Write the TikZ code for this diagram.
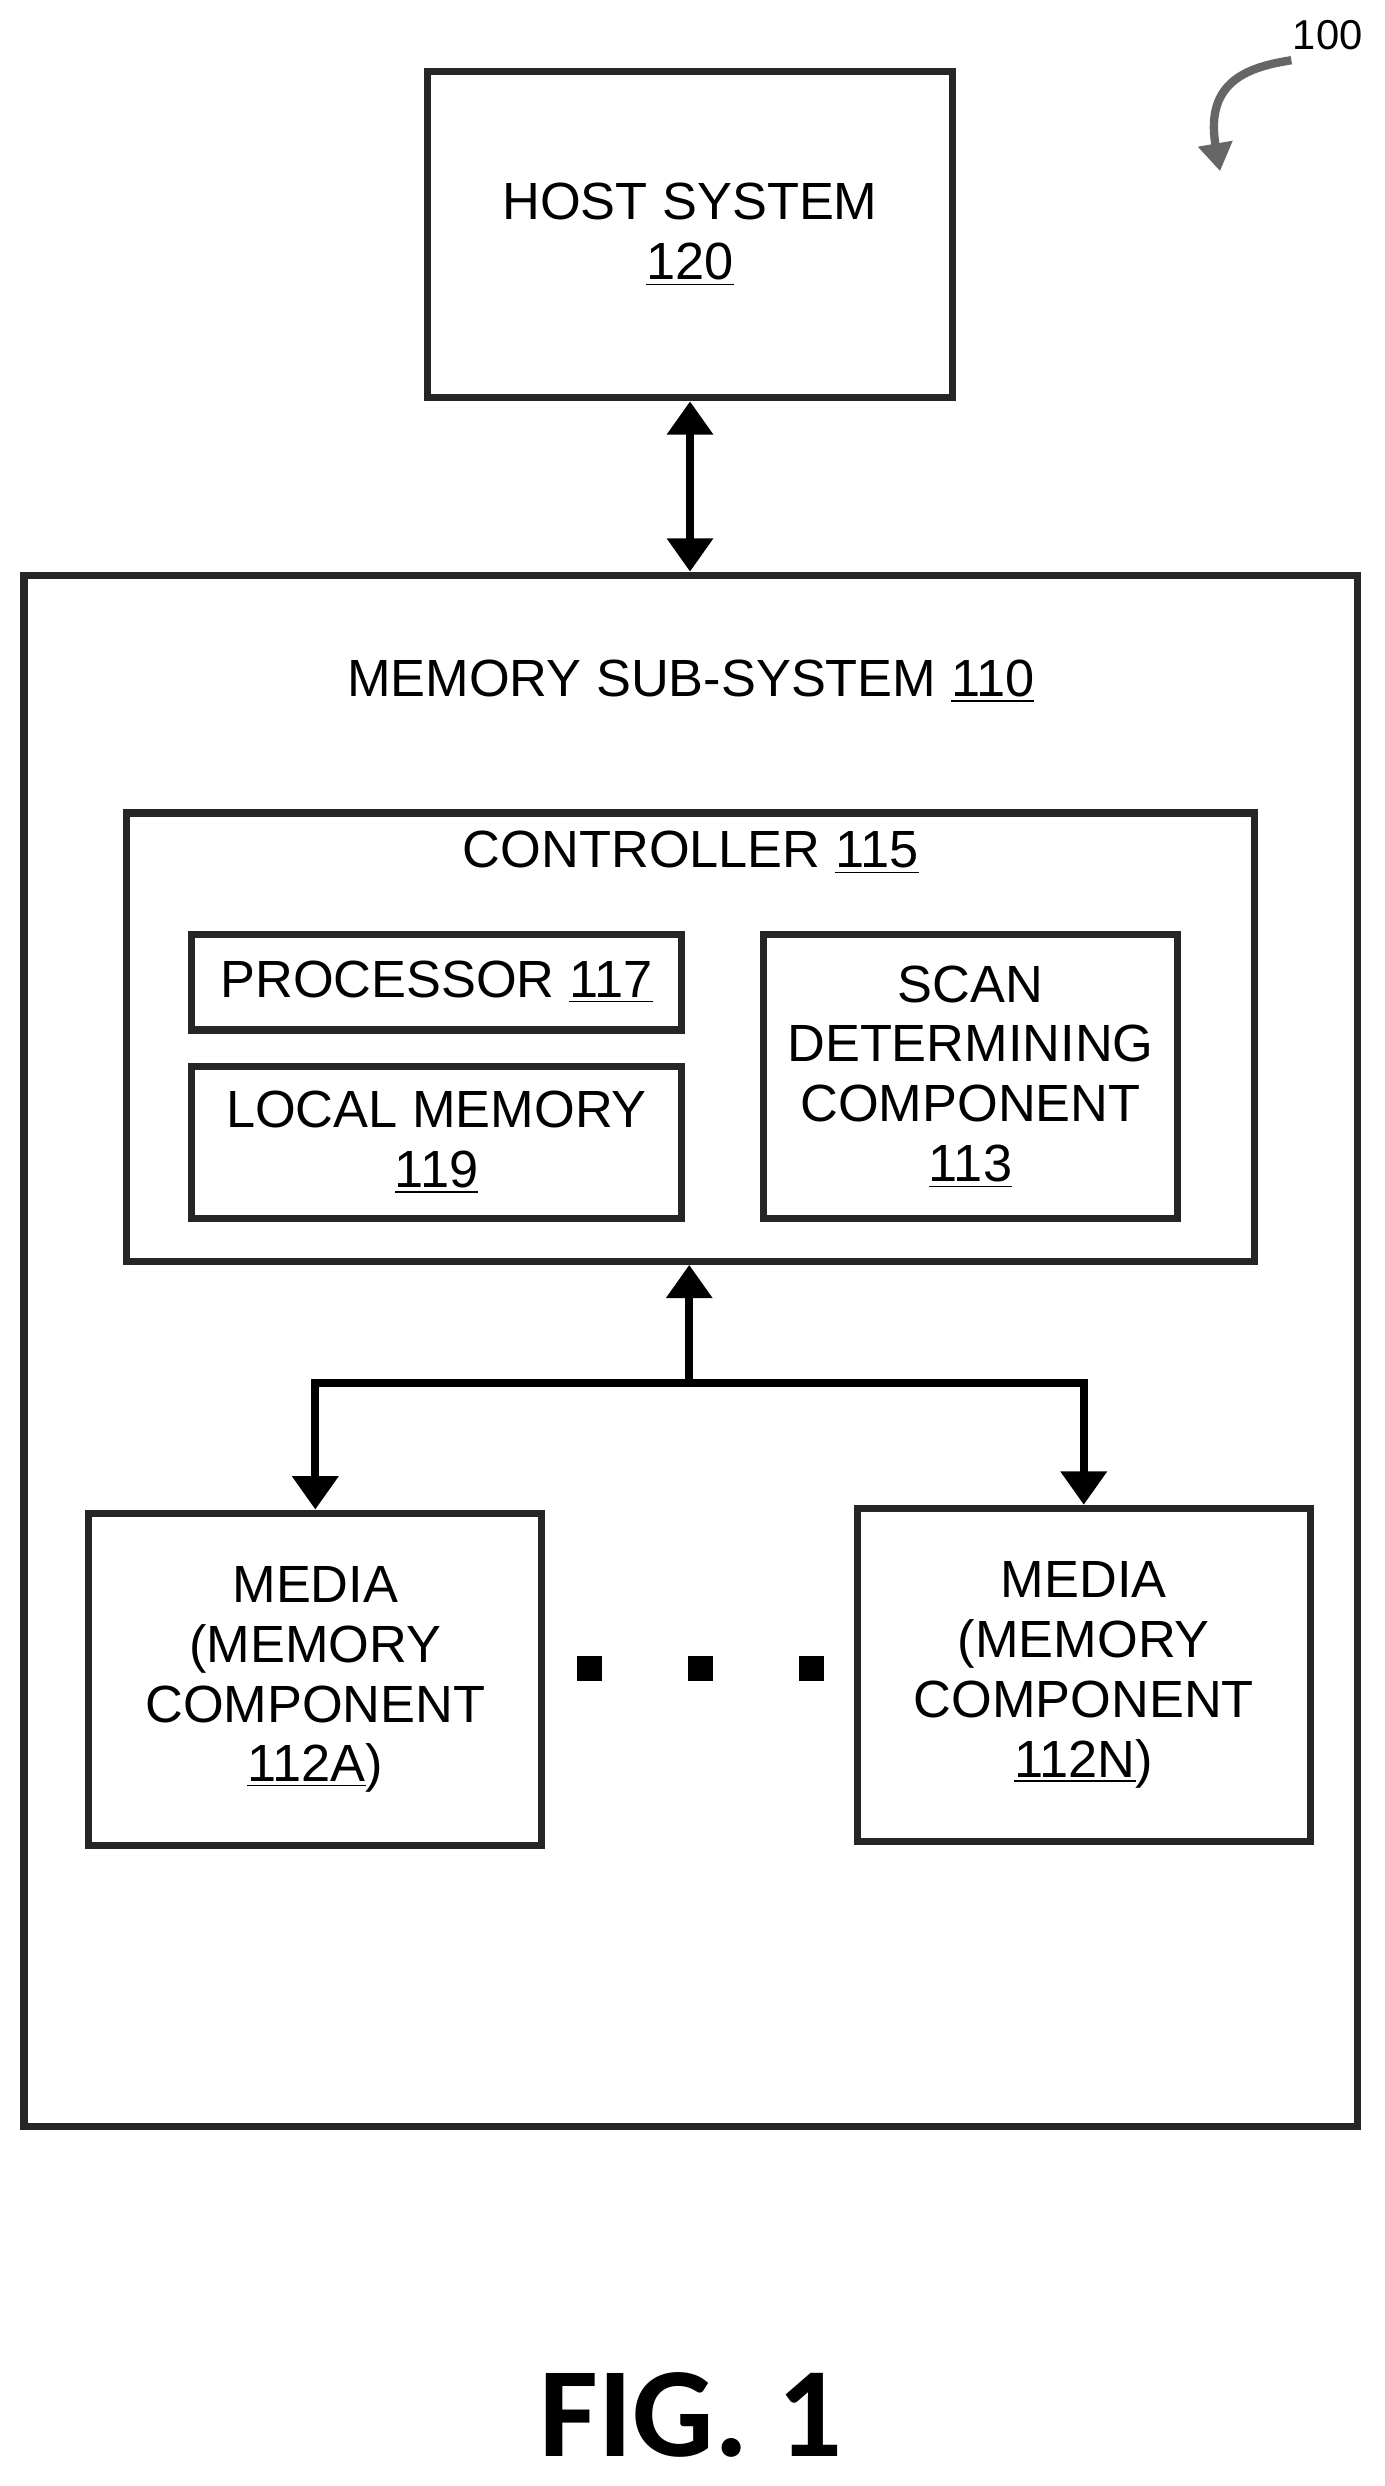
\documentclass[tikz,border=0pt]{standalone}
\usepackage{fontspec}
\setmainfont{Liberation Sans}
\newfontfamily\figfont{Carlito}
\usetikzlibrary{arrows.meta}

\begin{document}
\begin{tikzpicture}[x=0.02cm,y=-0.02cm]
        \tikzstyle{every node}=[font=\fontsize{18.8}{21.5}\selectfont,align=center]
        \tikzstyle{blk}=[draw=black!85,line width=2.6pt,inner sep=0pt]
        \tikzstyle{bus}=[black,line width=3pt]
        \tikzstyle{tip}=[-{Triangle[length=12pt,width=16pt]}]
        \useasboundingbox (0,0) rectangle (874,1569);

        %% host and sub-system
        \node [blk,minimum width=6.62cm,minimum height=4.12cm] (host) at (435.5,148) {HOST SYSTEM\\\underline{120}};
        \node [blk,minimum width=16.84cm,minimum height=19.58cm] (mss) at (436,852.5) {};
        \node (msslbl) at (436,430) {MEMORY SUB-SYSTEM \underline{110}};

        %% controller
        \node [blk,minimum width=14.24cm,minimum height=5.66cm] (ctrl) at (436,654.5) {};
        \node (ctrllbl) at (436,538) {CONTROLLER \underline{115}};
        \node [blk,minimum width=6.18cm,minimum height=1.2cm] (proc) at (275.5,620) {PROCESSOR \underline{117}};
        \node [blk,minimum width=6.18cm,minimum height=1.92cm] (lmem) at (275.5,721) {LOCAL MEMORY\\\underline{119}};
        \node [blk,minimum width=5.22cm,minimum height=3.58cm] (scan) at (612.5,679.5) {SCAN\\DETERMINING\\COMPONENT\\\underline{113}};

        %% media
        \node [blk,minimum width=5.72cm,minimum height=4.2cm] (mediaA) at (199,1060) {MEDIA\\(MEMORY\\COMPONENT\\\underline{112A})};
        \node [blk,minimum width=5.72cm,minimum height=4.2cm] (mediaN) at (684,1057) {MEDIA\\(MEMORY\\COMPONENT\\\underline{112N})};
        \foreach \x in {372,442,512}
            \fill [black] (\x-8,1045) rectangle (\x+8,1061);

        %% connectors
        \draw [bus,{Triangle[length=12pt,width=16pt]}-{Triangle[length=12pt,width=16pt]}] (host.south) -- (host.south |- mss.north);
        \coordinate (jn) at (435,873);
        \draw [bus,tip] (jn) -- (jn |- ctrl.south);
        \draw [bus,tip] (jn) -| (mediaA.north);
        \draw [bus,tip] (jn) -| (mediaN.north);

        %% reference numeral
        \node [font=\fontsize{15}{18}\selectfont] (ref) at (838,22) {100};
        \draw [black!60,line width=3pt,-{Triangle[length=10pt,width=12pt]}] (815,38) .. controls (790,42) and (760,50) .. (770,108);

        \node [font=\figfont\bfseries\fontsize{46}{54}\selectfont] (fig) at (436,1524) {FIG. 1};
\end{tikzpicture}
\end{document}
